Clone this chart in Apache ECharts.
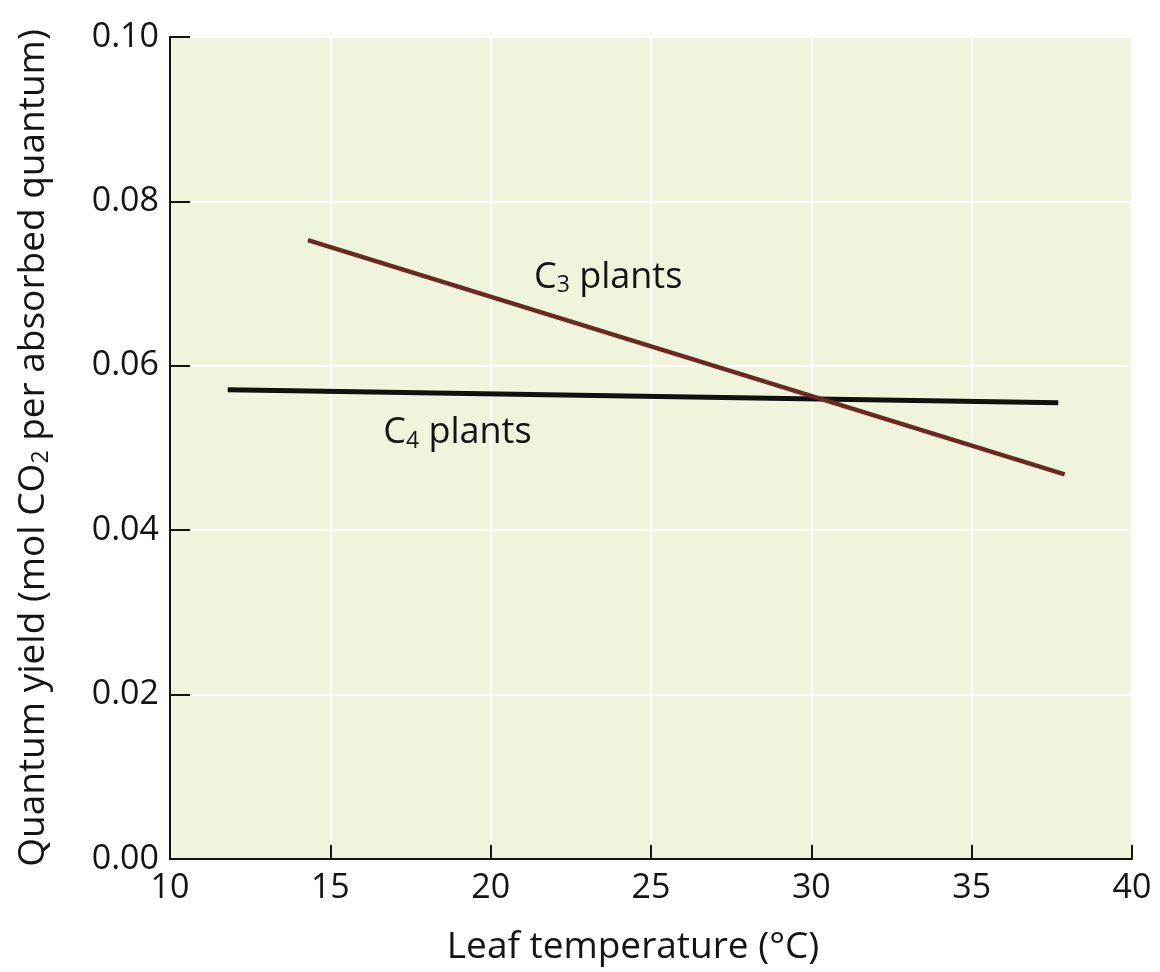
<!DOCTYPE html>
<html>
<head>
<meta charset="utf-8">
<script src="https://cdn.jsdelivr.net/npm/echarts@6/dist/echarts.min.js"></script>
<style>html,body{margin:0;padding:0;background:#fff;}#c{width:1160px;height:972px;}</style>
</head>
<body>
<div id="c"></div>
<script>
// Data
const c3Temp = [14.3, 37.9];
const c3Yield = [0.0753, 0.0468];
const c4Temp = [11.8, 37.7];
const c4Yield = [0.0571, 0.0555];
const xTicks = [10, 15, 20, 25, 30, 35, 40];
const yTicks = [0.00, 0.02, 0.04, 0.06, 0.08, 0.10];
const labelC3 = { x: 21.35, y: 0.0707, base: 'C', sub: '3', rest: ' plants' };
const labelC4 = { x: 16.65, y: 0.0518, base: 'C', sub: '4', rest: ' plants' };

const FONT = '"Open Sans", "Noto Sans", sans-serif';
const INK = '#141414';
const chart = echarts.init(document.getElementById('c'), null, { renderer: 'canvas' });

const richText = {
  n: { fontSize: 36, fontFamily: FONT, color: INK },
  s: { fontSize: 23, fontFamily: FONT, color: INK, padding: [16, 0, 0, 0] }
};

function labelSeries(l) {
  return {
    type: 'scatter',
    data: [[l.x, l.y]],
    symbolSize: 0,
    silent: true,
    itemStyle: { opacity: 1 },
    label: {
      show: true,
      position: 'right',
      distance: 0,
      color: INK,
      opacity: 1,
      formatter: '{n|' + l.base + '}{s|' + l.sub + '}{n|' + l.rest + '}',
      rich: richText
    },
    z: 5
  };
}

chart.setOption({
  animation: false,
  backgroundColor: '#ffffff',
  grid: {
    left: 170, right: 28, top: 37, bottom: 113,
    show: true, backgroundColor: '#eff5dc', borderWidth: 0
  },
  xAxis: {
    type: 'value', min: 10, max: 40, interval: 5,
    name: 'Leaf temperature (°C)',
    nameLocation: 'middle', nameGap: 70,
    nameTextStyle: { fontSize: 37, fontFamily: FONT, color: INK, padding: [0, 36, 0, 0] },
    axisLine: { show: true, lineStyle: { color: INK, width: 2 } },
    axisTick: { show: true, inside: true, length: 14, lineStyle: { color: INK, width: 2 } },
    axisLabel: { fontSize: 34, fontFamily: FONT, color: INK, margin: 12,
      formatter: v => xTicks.includes(v) ? String(v) : '' },
    splitLine: { show: true, lineStyle: { color: '#ffffff', width: 2 } }
  },
  yAxis: {
    type: 'value', min: 0, max: 0.10, interval: 0.02,
    name: '{n|Quantum yield (mol CO}{s|2}{n| per absorbed quantum)}',
    nameLocation: 'middle', nameGap: 117, nameRotate: 90,
    nameTextStyle: {
      fontSize: 37, fontFamily: FONT, color: INK,
      rich: {
        n: { fontSize: 37, fontFamily: FONT, color: INK },
        s: { fontSize: 23, fontFamily: FONT, color: INK, padding: [17, 0, 0, 0] }
      }
    },
    axisLine: { show: true, lineStyle: { color: INK, width: 2 } },
    axisTick: { show: true, inside: true, length: 20, lineStyle: { color: INK, width: 2 } },
    axisLabel: { fontSize: 34, fontFamily: FONT, color: INK, margin: 11,
      formatter: v => {
        const t = yTicks.find(y => Math.abs(y - v) < 1e-9);
        return t === undefined ? '' : t.toFixed(2);
      } },
    splitLine: { show: true, lineStyle: { color: '#ffffff', width: 2 } }
  },
  series: [
    {
      name: 'C4 plants', type: 'line',
      data: c4Temp.map((t, i) => [t, c4Yield[i]]),
      symbol: 'none',
      lineStyle: { color: '#111111', width: 5 },
      z: 3
    },
    {
      name: 'C3 plants', type: 'line',
      data: c3Temp.map((t, i) => [t, c3Yield[i]]),
      symbol: 'none',
      lineStyle: { color: '#6a2a22', width: 4.5 },
      z: 4
    },
    labelSeries(labelC3),
    labelSeries(labelC4)
  ]
});
</script>
</body>
</html>
